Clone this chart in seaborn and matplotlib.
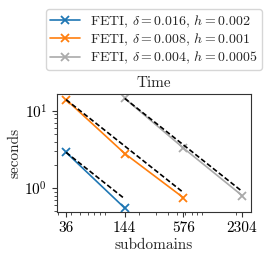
import matplotlib
matplotlib.use("Agg")
import matplotlib.pyplot as plt
import matplotlib.ticker as mticker
import pandas as pd
import seaborn as sns

SUBDOMAINS_A = [36, 144]
SECONDS_A = [2.9, 0.55]
SUBDOMAINS_B = [36, 144, 576]
SECONDS_B = [14.0, 2.8, 0.75]
SUBDOMAINS_C = [144, 576, 2304]
SECONDS_C = [14.5, 3.3, 0.8]

LABELS = [
    r"FETI, $\delta=0.016$, $h=0.002$",
    r"FETI, $\delta=0.008$, $h=0.001$",
    r"FETI, $\delta=0.004$, $h=0.0005$",
]
COLORS = ["#1f77b4", "#ff7f0e", "#aaaaaa"]
X_TICKS = [36, 144, 576, 2304]

sns.set_style("ticks")
plt.rcParams["font.family"] = ["cmr10"]
plt.rcParams["mathtext.fontset"] = "cm"
plt.rcParams["axes.formatter.use_mathtext"] = True
plt.rcParams["font.size"] = 11

fig = plt.figure(figsize=(2.75, 2.63), dpi=100)
ax = fig.add_axes([0.207, 0.194, 0.706, 0.449])

series = [
    (SUBDOMAINS_A, SECONDS_A),
    (SUBDOMAINS_B, SECONDS_B),
    (SUBDOMAINS_C, SECONDS_C),
]
for (xs, ys), label, color in zip(series, LABELS, COLORS):
    df = pd.DataFrame({"subdomains": xs, "seconds": ys})
    sns.lineplot(data=df, x="subdomains", y="seconds", ax=ax, color=color,
                 marker="x", markersize=6, markeredgewidth=1.3,
                 markeredgecolor=color, linewidth=1.2, label=label)
    # ideal linear scaling from the first point
    ideal = [ys[0] * xs[0] / x for x in xs]
    ax.plot(xs, ideal, color="black", linestyle=(0, (3, 1.5)), linewidth=1.2,
            zorder=3)

ax.set_xscale("log")
ax.set_yscale("log")
ax.set_xlim(29, 2850)
ax.set_ylim(0.49, 16.6)
ax.xaxis.set_major_locator(mticker.FixedLocator(X_TICKS))
ax.xaxis.set_major_formatter(mticker.FixedFormatter([str(t) for t in X_TICKS]))
ax.xaxis.set_minor_formatter(mticker.NullFormatter())
ax.yaxis.set_minor_formatter(mticker.NullFormatter())
for s in ax.spines.values():
    s.set_color("#333333")
ax.tick_params(which="both", colors="#333333", labelcolor="black",
               labelsize=11)

ax.set_xlabel("subdomains", fontsize=11, labelpad=2)
ax.set_ylabel("seconds", fontsize=11, labelpad=2)
ax.set_title("Time", fontsize=11, pad=5)
ax.legend(loc="lower center", bbox_to_anchor=(0.5, 1.2), fontsize=10,
          frameon=True, handlelength=2.1, borderpad=0.3, labelspacing=0.15,
          handletextpad=0.75, borderaxespad=0)

fig.savefig("out.png", dpi=100)
